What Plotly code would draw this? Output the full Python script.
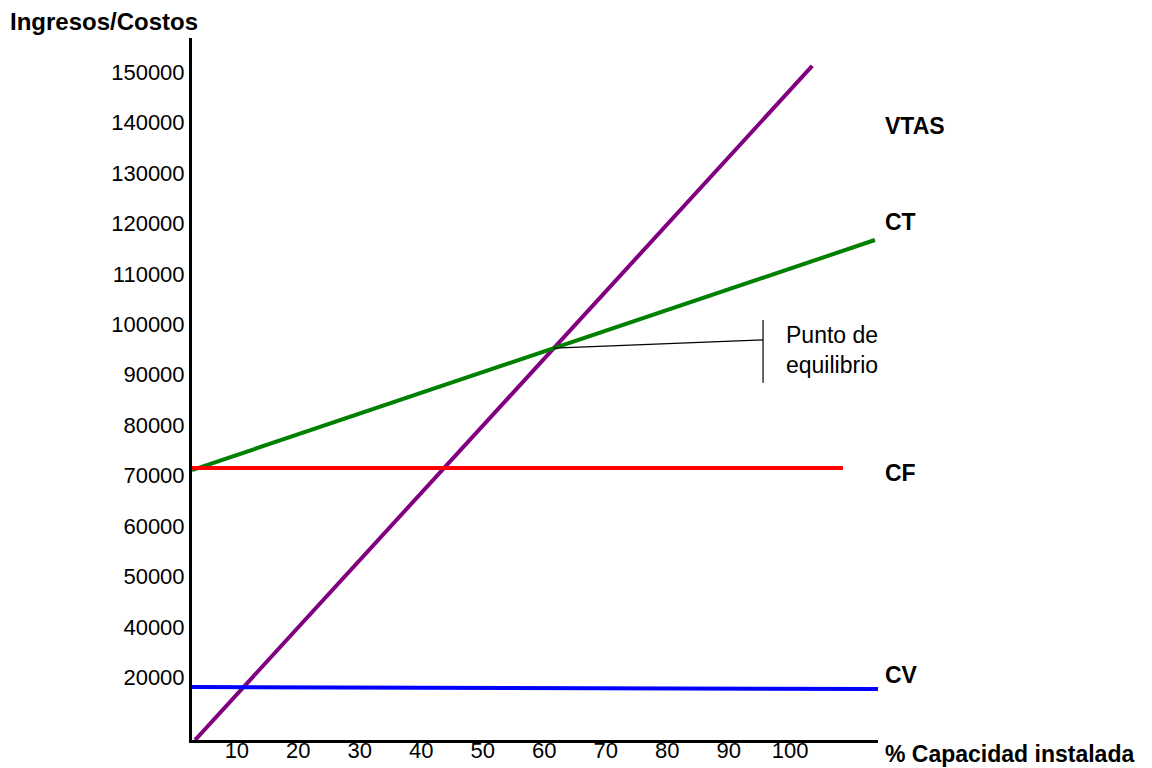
import plotly.graph_objects as go

# Data
vtas_x = [3.2, 103.6]
vtas_y = [17600, 151200]
ct_x = [2.7, 113.8]
ct_y = [71100, 116700]
cf_x = [2.7, 108.6]
cf_y = [71500, 71500]
cv_x = [2.7, 114.6]
cv_y = [28100, 27700]

x_ticks = [10, 20, 30, 40, 50, 60, 70, 80, 90, 100]
y_tick_pos = [30000, 40000, 50000, 60000, 70000, 80000, 90000, 100000,
              110000, 120000, 130000, 140000, 150000]
y_tick_text = ["20000", "40000", "50000", "60000", "70000", "80000", "90000",
               "100000", "110000", "120000", "130000", "140000", "150000"]

series_labels = ["VTAS", "CT", "CF", "CV"]
label_ypaper = [0.8746, 0.7379, 0.3803, 0.0926]

# break-even point: intersection of VTAS and CT
mv = (vtas_y[1] - vtas_y[0]) / (vtas_x[1] - vtas_x[0])
mc = (ct_y[1] - ct_y[0]) / (ct_x[1] - ct_x[0])
bx = (ct_y[0] - mc * ct_x[0] - vtas_y[0] + mv * vtas_x[0]) / (mv - mc)
by = vtas_y[0] + mv * (bx - vtas_x[0])
bracket_x = 95.6
bracket_y = [88400, 100850]
leader_end_y = 96900

FONT = "Liberation Sans, Arial, sans-serif"
FS = 23
TICK_FS = 22

fig = go.Figure()
fig.add_trace(go.Scatter(x=vtas_x, y=vtas_y, mode="lines",
                         line=dict(color="#800080", width=4), cliponaxis=False))
fig.add_trace(go.Scatter(x=ct_x, y=ct_y, mode="lines",
                         line=dict(color="#008000", width=4), cliponaxis=False))
fig.add_trace(go.Scatter(x=cf_x, y=cf_y, mode="lines",
                         line=dict(color="#FF0000", width=4), cliponaxis=False))
fig.add_trace(go.Scatter(x=cv_x, y=cv_y, mode="lines",
                         line=dict(color="#0000FF", width=4), cliponaxis=False))
# leader line and bracket
fig.add_trace(go.Scatter(x=[bx, bracket_x], y=[by, leader_end_y], mode="lines",
                         line=dict(color="black", width=1.2)))
fig.add_trace(go.Scatter(x=[bracket_x, bracket_x], y=bracket_y, mode="lines",
                         line=dict(color="black", width=1.2)))

annotations = []
for lab, ly in zip(series_labels, label_ypaper):
    annotations.append(dict(x=1.0073, y=ly, xref="paper", yref="paper",
                            text="<b>%s</b>" % lab,
                            showarrow=False, xanchor="left", yanchor="middle",
                            font=dict(size=FS, color="black", family=FONT)))
annotations.append(dict(x=1.0073, y=-0.0195, xref="paper", yref="paper",
                        text="<b>% Capacidad instalada</b>", showarrow=False,
                        xanchor="left", yanchor="middle",
                        font=dict(size=FS, color="black", family=FONT)))
annotations.append(dict(x=-0.2682, y=1.0228, xref="paper", yref="paper",
                        text="<b>Ingresos/Costos</b>", showarrow=False,
                        xanchor="left", yanchor="middle",
                        font=dict(size=24, color="black", family=FONT)))
annotations.append(dict(x=99.0, y=94900, xref="x", yref="y",
                        text="Punto de<br>equilibrio", showarrow=False,
                        xanchor="left", yanchor="middle", align="left",
                        font=dict(size=FS, color="black", family=FONT)))

fig.update_layout(
    width=1152, height=768,
    margin=dict(l=192, r=274, t=38, b=28, autoexpand=False),
    paper_bgcolor="white", plot_bgcolor="white",
    showlegend=False,
    font=dict(family=FONT, size=FS, color="black"),
    annotations=annotations,
)
fig.update_xaxes(range=[2.7, 114.3], tickvals=x_ticks, showgrid=False, zeroline=False,
                 showline=True, linewidth=3, linecolor="black", ticks="",
                 automargin=False, ticklabelstandoff=-11,
                 tickfont=dict(size=TICK_FS, family=FONT))
fig.update_yaxes(range=[17600, 156740], tickvals=y_tick_pos, ticktext=y_tick_text,
                 showgrid=False, zeroline=False, showline=True, linewidth=3,
                 linecolor="black", ticks="", automargin=False,
                 tickfont=dict(size=TICK_FS, family=FONT))

fig.write_html(
    "out.html",
    config={"displayModeBar": False},
    post_script=("document.body.style.margin='0';"
                 "document.body.style.overflow='hidden';"
                 "document.documentElement.style.overflow='hidden';"),
)
